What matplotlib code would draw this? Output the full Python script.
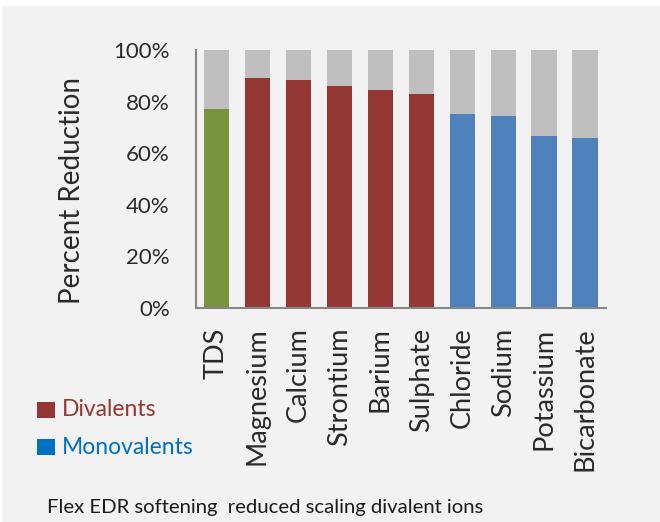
import matplotlib.pyplot as plt
from matplotlib.patches import Rectangle

categories = ['TDS', 'Magnesium', 'Calcium', 'Strontium', 'Barium', 'Sulphate',
              'Chloride', 'Sodium', 'Potassium', 'Bicarbonate']
reduction = [77.0, 89.1, 88.4, 86.0, 84.5, 82.9, 75.2, 74.4, 66.7, 65.9]
groups = ['total', 'di', 'di', 'di', 'di', 'di', 'mono', 'mono', 'mono', 'mono']

colors = {'total': '#77933c', 'di': '#943634', 'mono': '#4f81bd'}
rest_color = '#bfbfbf'
bg = '#f2f2f2'
txt = '#2a2a2a'

plt.rcParams['font.family'] = ['Lato', 'DejaVu Sans']

W, H = 660, 522
fig = plt.figure(figsize=(6.6, 5.22), dpi=100)
fig.patch.set_facecolor('white')
fig.add_artist(Rectangle((0.003, 0), 0.997, 0.988, transform=fig.transFigure,
                         facecolor=bg, edgecolor='none', zorder=-10))

ax = fig.add_axes([0.297, 0.410, 0.621, 0.494])
ax.set_facecolor(bg)

x = range(len(categories))
rest = [100 - v for v in reduction]
ax.bar(x, reduction, width=0.63, color=[colors[g] for g in groups], zorder=2)
ax.bar(x, rest, bottom=reduction, width=0.63, color=rest_color, zorder=2)

ax.set_xlim(-0.5, len(categories) - 0.5)
ax.set_ylim(0, 100)
ax.set_yticks([0, 20, 40, 60, 80, 100])
ax.set_yticklabels(['0%', '20%', '40%', '60%', '80%', '100%'],
                   fontsize=16, color=txt)
ax.set_xticks(list(x))
ax.set_xticklabels(categories, rotation=90, fontsize=19.5, color=txt, va='top')
ax.tick_params(axis='y', length=0, pad=19)
ax.tick_params(axis='x', length=0, pad=14)

for s in ['top', 'right']:
    ax.spines[s].set_visible(False)
for s in ['left', 'bottom']:
    ax.spines[s].set_color('#868686')
    ax.spines[s].set_linewidth(1.5)

fig.text(72 / W, 1 - 190 / H, 'Percent Reduction', rotation=90, fontsize=20,
         color=txt, ha='center', va='center')

# legend-like labels
fig.add_artist(Rectangle((37 / W, 1 - 418 / H), 18 / W, 16 / H,
                         transform=fig.transFigure, facecolor='#943634',
                         edgecolor='none'))
fig.text(62 / W, 1 - 410 / H, 'Divalents', fontsize=16.5, color='#943634',
         va='center')
fig.add_artist(Rectangle((37 / W, 1 - 455 / H), 18 / W, 16 / H,
                         transform=fig.transFigure, facecolor='#0070c0',
                         edgecolor='none'))
fig.text(62 / W, 1 - 447 / H, 'Monovalents', fontsize=16.5, color='#0070c0',
         va='center')

fig.text(265 / W, 1 - 513 / H, 'Flex EDR softening  reduced scaling divalent ions',
         fontsize=14.6, color='#1a1a1a', ha='center', va='baseline')

fig.savefig('out.png', dpi=100, facecolor=fig.get_facecolor())
